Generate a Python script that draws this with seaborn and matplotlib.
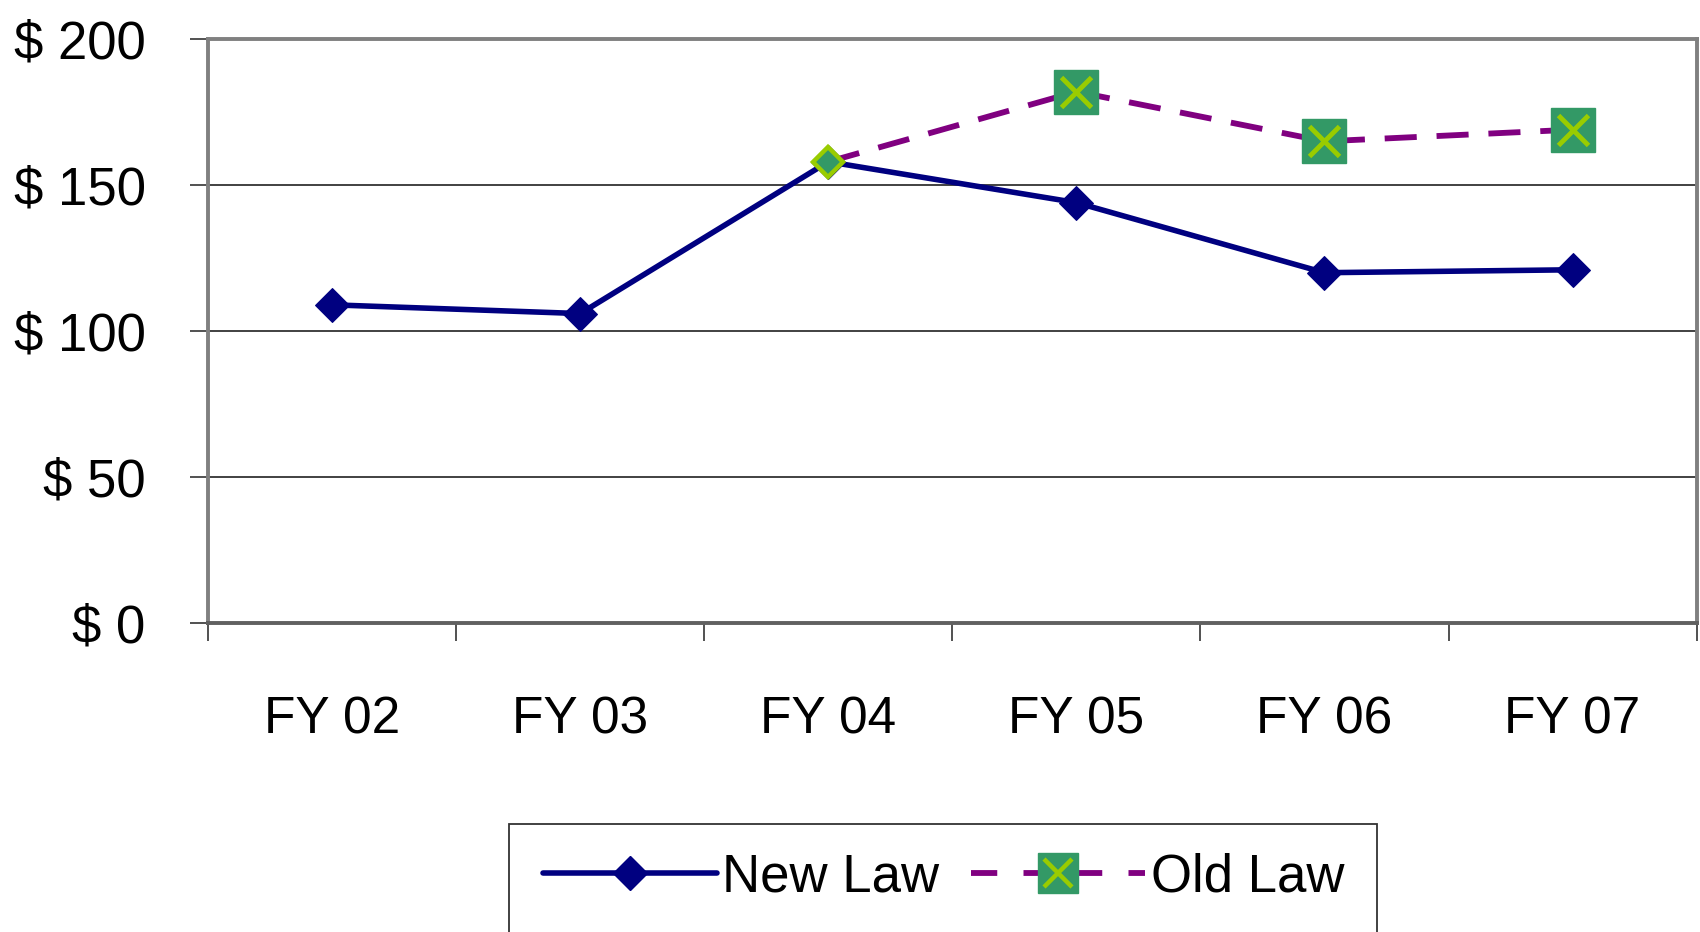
import numpy as np
import pandas as pd
import matplotlib
matplotlib.use("Agg")
import matplotlib.pyplot as plt
import seaborn as sns
from matplotlib.lines import Line2D
from matplotlib.patches import Rectangle
from matplotlib.legend_handler import HandlerTuple

# ---------------------- DATA ----------------------
fiscal_years = ["FY 02", "FY 03", "FY 04", "FY 05", "FY 06", "FY 07"]
new_law = [109, 106, 158, 144, 120, 121]
old_law_years = ["FY 04", "FY 05", "FY 06", "FY 07"]
old_law = [158, 182, 165, 169]
y_ticks = [0, 50, 100, 150, 200]

pos = {fy: i for i, fy in enumerate(fiscal_years)}
df_new = pd.DataFrame({"pos": [pos[f] for f in fiscal_years], "value": new_law})
df_old = pd.DataFrame({"pos": [pos[f] for f in old_law_years], "value": old_law})

# ---------------------- STYLE ----------------------
sns.set_theme(style="white")
plt.rcParams['font.family'] = ['Liberation Sans', 'DejaVu Sans']
plt.rcParams['text.color'] = 'black'
plt.rcParams['xtick.color'] = 'black'
plt.rcParams['ytick.color'] = 'black'

navy = "#000080"
purple = "#800080"
green = "#339966"
lime = "#99CC00"

fig = plt.figure(figsize=(17, 9.32), dpi=100)
ax = fig.add_axes([0.1224, 0.3315, 0.8756, 0.6265])

# Old law (dashed, square + x markers)
sns.lineplot(data=df_old, x="pos", y="value", ax=ax, color=purple,
             linewidth=4.2, linestyle=(0, (5.5, 3.4)), zorder=3)
ax.plot(df_old["pos"][1:], df_old["value"][1:], linestyle="none", marker="s",
        markersize=31, markerfacecolor=green, markeredgecolor=green, zorder=5)
ax.plot(df_old["pos"][1:], df_old["value"][1:], linestyle="none", marker="x",
        markersize=21, markeredgecolor=lime, markeredgewidth=3.5, zorder=6)

# New law (solid, diamonds)
sns.lineplot(data=df_new, x="pos", y="value", ax=ax, color=navy, linewidth=4,
             marker="D", markersize=17, markerfacecolor=navy,
             markeredgecolor=navy, zorder=4)

# shared point where the two laws meet
ax.plot(df_old["pos"][:1], df_old["value"][:1], linestyle="none", marker="D",
        markersize=15, markerfacecolor=green, markeredgecolor=lime,
        markeredgewidth=3.2, zorder=7)

# ---------------------- AXES ----------------------
ax.set_xlim(-0.5, len(fiscal_years) - 0.5)
ax.set_ylim(0, 200)
ax.set_xticks(range(len(fiscal_years)))
ax.set_xticklabels(fiscal_years)
ax.set_xticks(np.arange(-0.5, len(fiscal_years)), minor=True)
ax.tick_params(axis="x", which="major", length=0, pad=52, labelsize=37)
ax.tick_params(axis="x", which="minor", length=13, width=1.2,
               color="#333333", direction="out", bottom=True)
ax.set_yticks(y_ticks)
ax.set_yticklabels([f"$ {v}" for v in y_ticks])
ax.tick_params(axis="y", length=13, width=1.2, color="#333333",
               direction="out", left=True, pad=32, labelsize=38)
ax.set_xlabel("")
ax.set_ylabel("")

ax.yaxis.grid(True, color="#333333", linewidth=1.3)
ax.xaxis.grid(False)
for side in ["top", "left", "right"]:
    ax.spines[side].set_color("#808080")
    ax.spines[side].set_linewidth(2.8)
ax.spines["bottom"].set_color("#606060")
ax.spines["bottom"].set_linewidth(2.8)

# ---------------------- LEGEND ----------------------
h_new = Line2D([], [], color=navy, linewidth=4, marker="D", markersize=17,
               markerfacecolor=navy, markeredgecolor=navy)
h_old_line = Line2D([], [], color=purple, linewidth=4.2,
                    linestyle=(0, (4.5, 4.5)), marker="s", markersize=29,
                    markerfacecolor=green, markeredgecolor=green)
h_old_x = Line2D([], [], linestyle="none", marker="x", markersize=20,
                 markeredgecolor=lime, markeredgewidth=3.2)
leg = fig.legend([h_new, (h_old_line, h_old_x)], ["New Law", "Old Law"],
                 loc="upper center", bbox_to_anchor=(0.555, 0.142),
                 bbox_transform=fig.transFigure, ncol=2, fontsize=38,
                 handlelength=3.3, handletextpad=0.1, columnspacing=0.6,
                 borderpad=0.5, frameon=False,
                 handler_map={tuple: HandlerTuple(ndivide=1)})

# legend box runs off the bottom of the figure, as in the original
fig.patches.append(Rectangle((0.2997, -0.05), 0.5102, 0.1663,
                             transform=fig.transFigure, fill=False,
                             edgecolor="#333333", linewidth=1.3))

fig.savefig("out.png", dpi=100)
